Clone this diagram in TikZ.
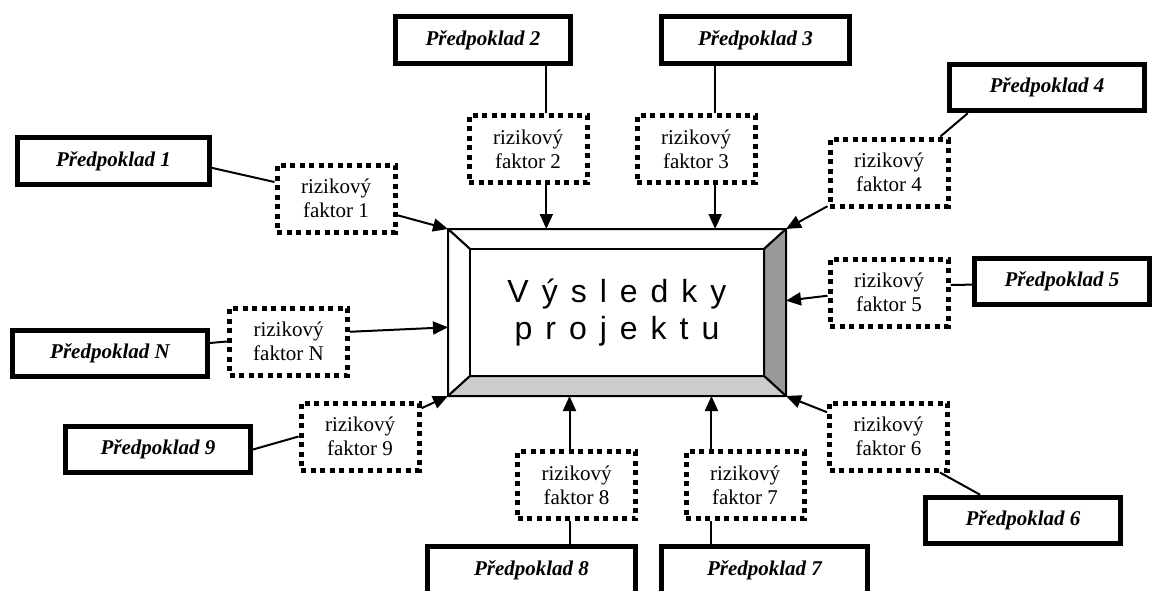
\documentclass[tikz,border=0pt]{standalone}
\usepackage{fontspec}
\setmainfont{Liberation Serif}
\newfontfamily\arialfont{Liberation Sans}
\usepackage{tikz}
\usetikzlibrary{arrows.meta,calc}
\definecolor{bevel_dark}{HTML}{999999}
\definecolor{bevel_light}{HTML}{CCCCCC}
\tikzstyle{node_predpoklad} = [rectangle, draw, line width=5pt, inner sep=0pt, minimum height=46.5pt, font=\bfseries\itshape\fontsize{21}{23}\selectfont]
\tikzstyle{node_riziko} = [rectangle, draw, line width=5pt, dash pattern=on 5pt off 4.5pt, inner sep=0pt, minimum width=118pt, minimum height=67pt, align=center, font=\fontsize{21}{24}\selectfont]
\tikzstyle{node_vysledky} = [rectangle, draw, line width=2pt, inner sep=0pt, minimum width=336pt, minimum height=165pt]
\tikzstyle{edge_normal} = [line width=2pt]
\tikzstyle{edge_arrow} = [line width=2pt, -{Triangle[length=15pt,width=13pt]}]
\tikzstyle{bevel} = [line width=2pt, line join=round]

\begin{document}
\begin{tikzpicture}[x=1pt,y=-1pt]
\clip (0,0) rectangle (1159,590);
% central box
\node (res) at (617,312.5) [node_vysledky] {};
\coordinate (in_nw) at ($(res.north west)+(22,20)$);
\coordinate (in_ne) at ($(res.north east)+(-22,20)$);
\coordinate (in_se) at ($(res.south east)+(-22,-20)$);
\coordinate (in_sw) at ($(res.south west)+(22,-20)$);
\filldraw[bevel, fill=white] (res.north west)--(res.north east)--(in_ne)--(in_nw)--cycle;
\filldraw[bevel, fill=white] (res.north west)--(in_nw)--(in_sw)--(res.south west)--cycle;
\filldraw[bevel, fill=bevel_dark] (res.north east)--(res.south east)--(in_se)--(in_ne)--cycle;
\filldraw[bevel, fill=bevel_light] (res.south west)--(in_sw)--(in_se)--(res.south east)--cycle;
\filldraw[bevel, fill=white] (in_nw) rectangle (in_se);
\node (res_text) at (res) [align=center, font={\arialfont\fontsize{32}{37}\selectfont\spaceskip=13pt\relax}] {V ý s l e d k y\\p r o j e k t u};

% rizikove faktory
\node (rf1) at (336,198.5) [node_riziko] {rizikový\\faktor 1};
\node (rf2) at (528,149) [node_riziko] {rizikový\\faktor 2};
\node (rf3) at (696,149) [node_riziko] {rizikový\\faktor 3};
\node (rf4) at (889,172.5) [node_riziko] {rizikový\\faktor 4};
\node (rf5) at (889,292.5) [node_riziko] {rizikový\\faktor 5};
\node (rf6) at (888.5,436.5) [node_riziko] {rizikový\\faktor 6};
\node (rf7) at (745,485) [node_riziko] {rizikový\\faktor 7};
\node (rf8) at (576.5,485) [node_riziko] {rizikový\\faktor 8};
\node (rf9) at (360,436.5) [node_riziko] {rizikový\\faktor 9};
\node (rfN) at (288.5,341.5) [node_riziko] {rizikový\\faktor N};

% predpoklady
\node (p1) at (113.5,161) [node_predpoklad, minimum width=192pt] {Předpoklad 1};
\node (p2) at (483,40) [node_predpoklad, minimum width=175pt] {Předpoklad 2};
\node (p3) at (755.5,40) [node_predpoklad, minimum width=188pt] {Předpoklad 3};
\node (p4) at (1047,87.5) [node_predpoklad, minimum width=195pt] {Předpoklad 4};
\node (p5) at (1062,281.5) [node_predpoklad, minimum width=175pt] {Předpoklad 5};
\node (p6) at (1023,520.5) [node_predpoklad, minimum width=195pt] {Předpoklad 6};
\node (p7) at (764.5,570) [node_predpoklad, minimum width=206pt] {Předpoklad 7};
\node (p8) at (531.5,570) [node_predpoklad, minimum width=208pt] {Předpoklad 8};
\node (p9) at (158,449.5) [node_predpoklad, minimum width=185pt] {Předpoklad 9};
\node (pN) at (110,353.5) [node_predpoklad, minimum width=195pt] {Předpoklad N};

% predpoklad -- faktor
\draw[edge_normal] (p1.-4) -- (rf1.165);
\draw[edge_normal] (rf2.63) -- (rf2.63 |- p2.south);
\draw[edge_normal] (rf3.62) -- (rf3.62 |- p3.south);
\draw[edge_normal] (p4.198) -- (rf4.35);
\draw[edge_normal] (p5.182) -- (rf5.7);
\draw[edge_normal] (p6.149) -- (rf6.-35);
\draw[edge_normal] (rf7.-133.5) -- (rf7.-133.5 |- p7.north);
\draw[edge_normal] (rf8.-101) -- (rf8.-101 |- p8.north);
\draw[edge_normal] (p9.east) -- (rf9.west);
\draw[edge_normal] (pN.6) -- (rfN.west);

% faktor -> vysledky
\draw[edge_arrow] (rf1) -- (res.north west);
\draw[edge_arrow] (rf2.-63) -- (rf2.-63 |- res.north);
\draw[edge_arrow] (rf3.-62) -- (rf3.-62 |- res.north);
\draw[edge_arrow] (rf4) -- (res.north east);
\draw[edge_arrow] (rf5.183) -- (res.4);
\draw[edge_arrow] (rf6) -- (res.south east);
\draw[edge_arrow] (rf7.133.5) -- (rf7.133.5 |- res.south);
\draw[edge_arrow] (rf8.101) -- (rf8.101 |- res.south);
\draw[edge_arrow] (rf9) -- (res.south west);
\draw[edge_arrow] (rfN.9) -- (res.185);
\end{tikzpicture}
\end{document}
